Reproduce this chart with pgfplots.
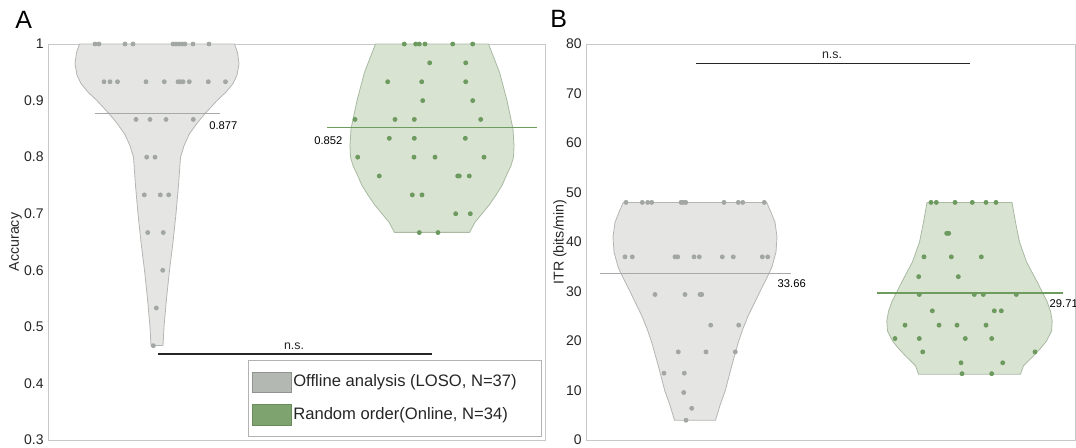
\documentclass[border=0pt]{standalone}
\usepackage{fontspec}
\setmainfont{Liberation Sans}
\usepackage{pgfplots}
\pgfplotsset{compat=1.18}

\definecolor{axgray}{HTML}{C8C8C8}
\definecolor{gFill}{HTML}{E5E6E4}
\definecolor{gEdge}{HTML}{B4B6B3}
\definecolor{gDot}{HTML}{A3A7A3}
\definecolor{gMean}{HTML}{A6A9A5}
\definecolor{vFill}{HTML}{D8E3D2}
\definecolor{vEdge}{HTML}{A9B9A2}
\definecolor{vDot}{HTML}{6D9A5E}
\definecolor{vMean}{HTML}{6E9C5F}
\definecolor{gSwatch}{HTML}{B3B9B2}
\definecolor{gSwatchB}{HTML}{8F958E}
\definecolor{vSwatch}{HTML}{7EA36F}
\definecolor{vSwatchB}{HTML}{6A8C5D}

\newcommand{\tickfont}{\fontsize{7}{8}\selectfont}
\newcommand{\labfont}{\fontsize{7.1}{8}\selectfont}
\newcommand{\valfont}{\fontsize{5.6}{6.5}\selectfont}

% x runs in picture pixels, y in data units
\pgfplotsset{
  violin/.style={
    scale only axis, clip=false,
    axis line style={draw=axgray, line width=0.5pt},
    major tick length=0pt,
    xtick=\empty,
    y tick label style={font=\tickfont, text=black!85, inner sep=0pt, anchor=east, xshift=-2pt},
    /pgf/number format/assume math mode=true,
  },
}

\begin{document}
\begin{tikzpicture}
\useasboundingbox (0,0) rectangle (538pt,223.5pt);

\node[anchor=base west, font=\fontsize{12.5}{14}\selectfont, inner sep=0pt] at (7.5pt,209.5pt) {A};
\node[anchor=base west, font=\fontsize{12.5}{14}\selectfont, inner sep=0pt] at (275pt,210pt) {B};

% Panel A: accuracy
\begin{axis}[
  violin,
  at={(24pt,3.5pt)}, anchor=south west,
  width=248.5pt, height=198pt,
  xmin=48, xmax=545, ymin=0.3, ymax=1,
  ytick={0.3,0.4,0.5,0.6,0.7,0.8,0.9,1},
  yticklabels={0.3,0.4,0.5,0.6,0.7,0.8,0.9,1},
  ylabel={Accuracy},
  every axis y label/.style={at={(axis description cs:-0.0654,0.5)}, rotate=90, anchor=center, font=\labfont, text=black!85},
  legend style={at={(0.9934,0.0083)}, anchor=south east, draw=black!30, fill=white,
    font=\fontsize{8.3}{9.5}\selectfont, text=black!85,
    inner xsep=2pt, inner ysep=5.5pt, row sep=5.5pt,
    nodes={inner sep=1pt},
    /tikz/every even column/.append style={column sep=1.5pt}},
  legend cell align=left,
]
\addlegendimage{legend image code/.code={\draw[draw=gSwatchB, fill=gSwatch] (0pt,-5.15pt) rectangle (19.2pt,5.15pt);}}
\addlegendentry{\makebox[121pt][l]{Offline analysis (LOSO, N=37)}}
\addlegendimage{legend image code/.code={\draw[draw=vSwatchB, fill=vSwatch] (0pt,-5.15pt) rectangle (19.2pt,5.15pt);}}
\addlegendentry{\makebox[121pt][l]{Random order(Online, N=34)}}

\addplot[fill=gFill, draw=gEdge, line width=0.4pt, forget plot] coordinates {
(234.5,1.000) (237.5,0.985) (239,0.965) (237,0.945) (233,0.93) (226,0.915) (217,0.9) (205,0.877) (197,0.86) (189,0.84) (184,0.82) (180.5,0.8) (179.5,0.775) (178.5,0.75) (176,0.7) (173,0.65) (169.5,0.6) (166.5,0.55) (164,0.5) (163,0.467)
(151,0.467) (150,0.5) (147.5,0.55) (144.5,0.6) (141,0.65) (138,0.7) (135.5,0.75) (134.5,0.775) (133.5,0.8) (130,0.82) (125,0.84) (117,0.86) (109,0.877) (97,0.9) (88,0.915) (81,0.93) (77,0.945) (75,0.965) (76.5,0.985) (79.5,1.000)} -- cycle;

\addplot[fill=vFill, draw=vEdge, line width=0.4pt, forget plot] coordinates {
(488.5,1) (494,0.975) (499.5,0.95) (507,0.9) (513,0.85) (514,0.82) (513.5,0.8) (511,0.785) (507,0.77) (502,0.75) (496,0.733) (489,0.715) (482,0.7) (475,0.685) (469.5,0.667)
(394.5,0.667) (389,0.685) (382,0.7) (375,0.715) (368,0.733) (362,0.75) (357,0.77) (353,0.785) (350.5,0.8) (350,0.82) (351,0.85) (357,0.9) (364.5,0.95) (370,0.975) (375.5,1)} -- cycle;

\addplot[only marks, mark=*, mark size=1pt, color=gDot, forget plot] coordinates {
(95,1) (99,1) (125,1) (133,1) (173,1) (176,1) (179,1) (182,1) (185,1) (193,1) (209,1)
(104,0.9333) (110,0.9333) (117.5,0.9333) (146,0.9333) (164.3,0.9333) (178,0.9333) (180.5,0.9333) (183,0.9333) (189.3,0.9333) (208.3,0.9333) (225.5,0.9333)
(136,0.8667) (150,0.8667) (166,0.8667) (193.3,0.8667)
(146.7,0.8) (155,0.8)
(144.3,0.7333) (160.3,0.7333) (168.7,0.7333)
(147.7,0.6667) (163.3,0.6667)
(162.7,0.6) (156.3,0.5333) (153.3,0.4667)};

\addplot[only marks, mark=*, mark size=1pt, color=vDot, forget plot] coordinates {
(404.3,1) (415.7,1) (419.3,1) (425,1) (452.7,1) (472.7,1)
(429.7,0.9667) (465.7,0.9667)
(387.7,0.9333) (421.7,0.9333) (465.7,0.9333)
(422.7,0.9) (472.7,0.9)
(355,0.8667) (395,0.8667) (414.3,0.8667) (480.7,0.8667)
(389.3,0.8333) (414.3,0.8333) (465.3,0.8333)
(357.7,0.8) (414,0.8) (435,0.8) (484,0.8)
(379.3,0.7667) (457.7,0.7667) (459.3,0.7667) (469.3,0.7667)
(412.3,0.7333) (422,0.7333)
(455.7,0.7) (470.3,0.7)
(419.3,0.6667) (438,0.6667)};

\addplot[gMean, line width=0.75pt, forget plot] coordinates {(95,0.877) (220,0.877)};
\addplot[vMean, line width=0.75pt, forget plot] coordinates {(327,0.852) (537,0.852)};
\node[anchor=west, font=\valfont, inner sep=0pt] at (axis cs:209,0.855) {0.877};
\node[anchor=east, font=\valfont, inner sep=0pt] at (axis cs:342.7,0.830) {0.852};

\addplot[black!85, line width=0.8pt, forget plot] coordinates {(158,0.452) (431.5,0.452)};
\node[anchor=base, font=\fontsize{6.2}{7}\selectfont, inner sep=0pt, text=black!85] at (axis cs:294,0.460) {n.s.};
\end{axis}

% Panel B: ITR
\begin{axis}[
  violin,
  at={(293pt,3.5pt)}, anchor=south west,
  width=244.5pt, height=198pt,
  xmin=586, xmax=1075, ymin=0, ymax=80,
  ytick={0,10,20,30,40,50,60,70,80},
  ylabel={ITR (bits/min)},
  every axis y label/.style={at={(axis description cs:-0.0532,0.5)}, rotate=90, anchor=center, font=\labfont, text=black!85},
]
\addplot[fill=gFill, draw=gEdge, line width=0.4pt] coordinates {
(766.7,48) (771,46) (775,44) (777,41) (776,38) (772,35) (769,33.66) (760,30) (754,27.5) (748,25) (743,22.5) (738.7,20) (731.7,15) (725.3,10) (720,7) (715.5,4)
(674.5,4) (670,7) (664.7,10) (658.3,15) (651.3,20) (647,22.5) (642,25) (636,27.5) (630,30) (621,33.66) (618,35) (614,38) (613,41) (615,44) (619,46) (623.3,48)} -- cycle;

\addplot[fill=vFill, draw=vEdge, line width=0.4pt] coordinates {
(1012,48) (1015.5,44) (1019.5,40) (1026.5,36) (1037,32) (1047,28) (1050.5,26) (1052.2,24) (1051.5,22) (1046.5,20) (1040.5,18.5) (1033.5,17) (1023.5,15) (1020.5,13.3)
(918.5,13.3) (915.5,15) (905.5,17) (898.5,18.5) (892.5,20) (887.5,22) (886.8,24) (888.5,26) (892,28) (902,32) (912.5,36) (919.5,40) (923.5,44) (927,48)} -- cycle;

\addplot[only marks, mark=*, mark size=1pt, color=gDot] coordinates {
(626,48) (642.3,48) (647.7,48) (651.7,48) (681,48) (683.3,48) (685.7,48) (724,48) (738.3,48) (742.7,48) (764.3,48)
(625,37) (632.3,37) (675,37) (677.7,37) (694,37) (699.3,37) (722.3,37) (733.3,37) (762.3,37) (767.7,37)
(655,29.4) (685,29.4) (700,29.4) (701.7,29.4)
(710.7,23.2) (738.7,23.2)
(678.3,17.8) (706,17.8) (735.3,17.8)
(664,13.5) (684.3,13.5)
(683.7,9.6) (691.7,6.4) (686,4.0)};

\addplot[only marks, mark=*, mark size=1pt, color=vDot] coordinates {
(931,48) (936.3,48) (955,48) (972.3,48) (986,48) (996,48)
(946.7,41.75) (948.7,41.75)
(924,37) (951.3,37) (981.3,37)
(918.7,33) (958.3,33)
(919.3,29.4) (974.3,29.4) (983.3,29.4) (1016.3,29.4)
(932.3,26.1) (994.3,26.1) (1001.3,26.1)
(905,23.2) (939,23.2) (957,23.2) (986,23.2)
(895,20.5) (919.3,20.5) (965.3,20.5) (991.7,20.5)
(922.7,17.8) (1035,17.8)
(961,15.6) (1002.7,15.6)
(962,13.4) (991.7,13.4)};

\addplot[gMean, line width=0.75pt] coordinates {(600,33.66) (790.7,33.66)};
\addplot[vMean, line width=0.75pt] coordinates {(876.7,29.71) (1062.7,29.71)};
\node[anchor=west, font=\valfont, inner sep=0pt] at (axis cs:777.3,31.5) {33.66};
\node[anchor=west, font=\valfont, inner sep=0pt] at (axis cs:1049.3,27.6) {29.71};

\addplot[black!85, line width=0.8pt] coordinates {(696,76.1) (970,76.1)};
\node[anchor=base, font=\fontsize{6.2}{7}\selectfont, inner sep=0pt, text=black!85] at (axis cs:832,77.1) {n.s.};
\end{axis}
\end{tikzpicture}
\end{document}
